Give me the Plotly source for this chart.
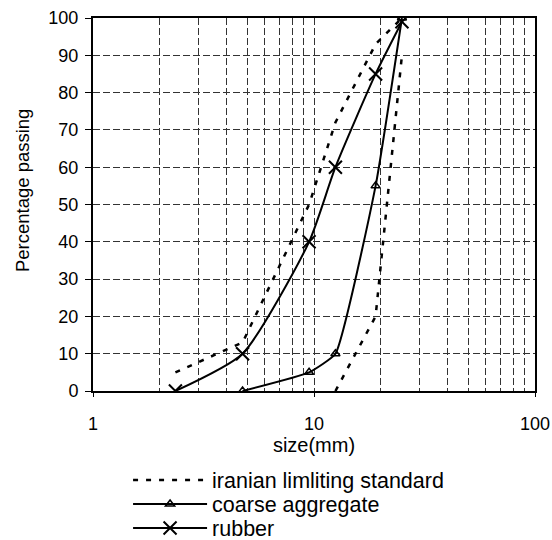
import plotly.graph_objects as go

# data
std_x = [2.36, 4.75, 9.5, 12.5, 19, 25, None, 12.5, 19, 25]
std_y = [5, 13, 50, 72, 93, 100, None, 0, 20, 90]
agg_x = [4.75, 9.5, 12.5, 19, 25]
agg_y = [0, 5, 10, 55, 100]
rub_x = [2.36, 4.75, 9.5, 12.5, 19, 25]
rub_y = [0, 10, 40, 60, 85, 99]
x_ticks = [1, 10, 100]
x_minor = [2, 3, 4, 5, 6, 7, 8, 9, 20, 30, 40, 50, 60, 70, 80, 90]

FONT = "Arial, Liberation Sans, sans-serif"
GRID = dict(showgrid=True, gridcolor="#333", gridwidth=1, griddash="7px,3px")

fig = go.Figure()
fig.add_trace(go.Scatter(x=std_x, y=std_y, mode="lines", name="iranian limliting standard",
                         line=dict(color="black", width=2.5, dash="5px,8px"), connectgaps=False,
                         legend="legend"))
fig.add_trace(go.Scatter(x=agg_x, y=agg_y, mode="lines+markers", name="coarse aggregate",
                         line=dict(color="black", width=2, shape="spline", smoothing=0.4),
                         marker=dict(symbol="triangle-up-open", size=8, color="black",
                                     line=dict(width=1.5, color="black")),
                         legend="legend2"))
fig.add_trace(go.Scatter(x=rub_x, y=rub_y, mode="lines+markers", name="rubber",
                         line=dict(color="black", width=2, shape="spline", smoothing=0.6),
                         marker=dict(symbol="x-thin", size=13, color="black",
                                     line=dict(width=2, color="black")),
                         legend="legend3"))

leg = dict(x=0.232, xref="container", yref="container", xanchor="left", yanchor="middle",
           font=dict(family=FONT, size=21.5, color="black"),
           itemwidth=74, bgcolor="rgba(0,0,0,0)", borderwidth=0)
fig.update_layout(
    width=552, height=540,
    margin=dict(l=93, r=17, t=18, b=149, autoexpand=False),
    paper_bgcolor="white", plot_bgcolor="white",
    font=dict(family=FONT, size=18, color="black"),
    showlegend=True,
    legend=dict(leg, y=0.111),
    legend2=dict(leg, y=0.0667),
    legend3=dict(leg, y=0.0222),
    annotations=[dict(text="Percentage passing", textangle=-90, showarrow=False,
                      xref="paper", yref="paper", x=-0.158, y=0.539,
                      xanchor="center", yanchor="middle",
                      font=dict(family=FONT, size=18.5, color="black"))],
)
fig.update_xaxes(type="log", range=[0, 2], tickvals=x_ticks, ticktext=[str(v) for v in x_ticks],
                 showline=True, linewidth=2, linecolor="black", mirror=True,
                 ticks="outside", ticklen=4, tickcolor="black", ticklabelstandoff=11,
                 tickfont=dict(family=FONT, size=18),
                 minor=dict(tickvals=x_minor, **GRID),
                 zeroline=False, automargin=False,
                 title=dict(text="size(mm)", standoff=0, font=dict(family=FONT, size=20)),
                 **GRID)
fig.update_yaxes(range=[0, 100], dtick=10,
                 showline=True, linewidth=2, linecolor="black", mirror=True,
                 ticks="outside", ticklen=6, tickcolor="black", ticklabelstandoff=3,
                 tickfont=dict(family=FONT, size=18),
                 zeroline=False, automargin=False,
                 **GRID)

fig.write_html("out.html", config={"displayModeBar": False},
               post_script="document.body.style.margin='0';document.body.style.overflow='hidden';")
